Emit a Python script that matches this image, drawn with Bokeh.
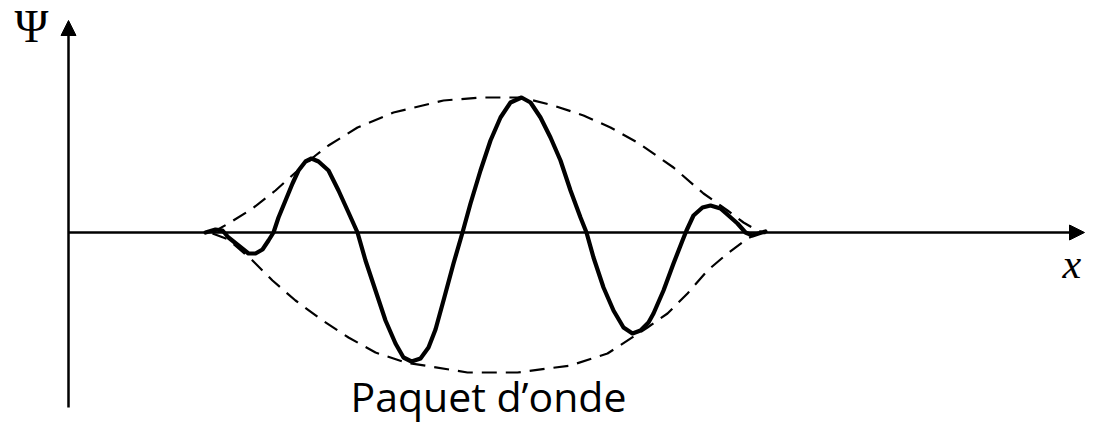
from bokeh.plotting import figure
from bokeh.models import Range1d, Arrow, NormalHead
from bokeh.core.properties import value
from bokeh.embed import file_html
from bokeh.resources import INLINE

# Wave packet (solid curve)
wave_x = [1.37, 1.47, 1.54, 1.60, 1.70, 1.80, 1.87, 1.94, 2.00, 2.05, 2.10, 2.17, 2.24, 2.30,
          2.37, 2.43, 2.50, 2.60, 2.70, 2.80, 2.89, 2.97, 3.07, 3.17, 3.27, 3.35, 3.43, 3.52,
          3.60, 3.67, 3.75, 3.85, 3.94, 4.02, 4.12, 4.22, 4.32, 4.42, 4.53, 4.62, 4.72, 4.82,
          4.92, 5.02, 5.12, 5.18, 5.25, 5.35, 5.45, 5.55, 5.64, 5.72, 5.80, 5.85, 5.95, 6.05,
          6.14, 6.18, 6.25, 6.34, 6.42, 6.52, 6.60, 6.69, 6.77, 6.84, 6.90, 6.97]
wave_y = [0.00, 0.03, 0.02, -0.05, -0.13, -0.21, -0.21, -0.17, -0.08, 0.00, 0.15, 0.32, 0.49, 0.62,
          0.71, 0.74, 0.71, 0.62, 0.42, 0.20, 0.00, -0.28, -0.58, -0.88, -1.11, -1.25, -1.29, -1.26,
          -1.15, -0.97, -0.68, -0.31, 0.00, 0.29, 0.62, 0.92, 1.15, 1.30, 1.35, 1.30, 1.15, 0.95,
          0.72, 0.42, 0.15, 0.00, -0.25, -0.55, -0.78, -0.95, -1.01, -0.98, -0.90, -0.81, -0.58, -0.31,
          -0.08, 0.02, 0.17, 0.25, 0.27, 0.24, 0.17, 0.09, 0.00, -0.03, -0.01, 0.01]

# Upper envelope (dashed)
env_up_x = [1.44, 1.60, 1.84, 2.07, 2.27, 2.47, 2.60, 2.89, 3.25, 3.75, 4.12, 4.53, 4.85, 5.15,
            5.42, 5.69, 6.05, 6.35, 6.59, 6.75, 6.89, 6.97]
env_up_y = [0.00, 0.09, 0.24, 0.42, 0.60, 0.77, 0.87, 1.05, 1.20, 1.32, 1.35, 1.35, 1.27, 1.17,
            1.05, 0.90, 0.65, 0.39, 0.22, 0.10, 0.02, -0.01]

# Lower envelope (dashed)
env_lo_x = [1.44, 1.60, 1.84, 2.04, 2.27, 2.54, 2.80, 3.07, 3.37, 3.99, 4.49, 5.02, 5.39, 5.79,
            5.99, 6.19, 6.39, 6.59, 6.79, 6.94]
env_lo_y = [-0.01, -0.07, -0.28, -0.48, -0.68, -0.88, -1.05, -1.20, -1.30, -1.40, -1.40, -1.33,
            -1.21, -0.95, -0.81, -0.61, -0.38, -0.21, -0.06, 0.01]

# Axes extents
y_axis_bottom = -1.75
y_axis_top = 2.12
x_axis_end = 10.16

# Texts
psi_label = ["Ψ"]
x_label = ["x"]
title_label = ["Paquet d’onde"]

p = figure(width=1085, height=425, output_backend="svg", toolbar_location=None,
           x_axis_type=None, y_axis_type=None, min_border=0,
           x_range=Range1d(-0.68, 10.17), y_range=Range1d(-1.93, 2.32))
p.grid.visible = False
p.outline_line_color = None
p.background_fill_color = "white"
p.border_fill_color = "white"

# axes with arrow heads
p.add_layout(Arrow(end=NormalHead(size=15, fill_color="black", line_color="black", line_width=1),
                   x_start=0, y_start=0, x_end=x_axis_end, y_end=0,
                   line_width=2.5, line_color="black"))
p.add_layout(Arrow(end=NormalHead(size=15, fill_color="black", line_color="black", line_width=1),
                   x_start=0, y_start=y_axis_bottom, x_end=0, y_end=y_axis_top,
                   line_width=2.5, line_color="black"))

# envelope
p.line(env_up_x, env_up_y, line_color="black", line_width=2.2, line_dash="15 9")
p.line(env_lo_x, env_lo_y, line_color="black", line_width=2.2, line_dash="15 9")

# wave
p.line(wave_x, wave_y, line_color="black", line_width=4.2, line_join="round", line_cap="round")

# labels
p.text(x=[-0.54], y=[2.06], text=psi_label, text_font=value("Liberation Serif"),
       text_font_size="46px", text_align="left", text_baseline="alphabetic", text_color="black")
p.text(x=[9.94], y=[-0.31], text=x_label, text_font=value("Liberation Serif"),
       text_font_style="italic", text_font_size="42px", text_align="left",
       text_baseline="alphabetic", text_color="black")
p.text(x=[4.20], y=[-1.63], text=title_label, text_font=value("Open Sans"),
       text_font_size="41px", text_align="center", text_baseline="alphabetic", text_color="black")

open("out.html", "w").write(file_html(p, INLINE))
